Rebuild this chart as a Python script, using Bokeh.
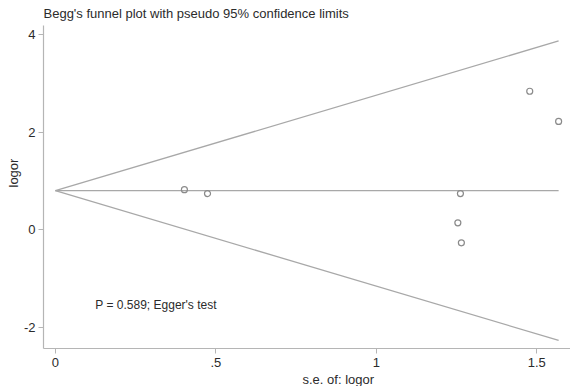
from bokeh.plotting import figure
from bokeh.models import Range1d, FixedTicker, Label, Title
from bokeh.embed import file_html
from bokeh.resources import INLINE

# Data
se_logor = [0.402, 0.474, 1.262, 1.254, 1.265, 1.478, 1.568]
logor = [0.82, 0.74, 0.74, 0.14, -0.27, 2.84, 2.22]
pooled = 0.80
x_ticks = [0, 0.5, 1, 1.5]
x_tick_labels = ["0", ".5", "1", "1.5"]
y_ticks = [-2, 0, 2, 4]
y_tick_labels = ["-2", "0", "2", "4"]

FONT = "Liberation Sans"
GRAY_LINE = "#a8a8a8"
AXIS_COL = "#b5b5b5"
TEXT_COL = "#2b2b2b"

p = figure(width=570, height=386, output_backend="svg", toolbar_location=None,
           x_range=Range1d(-0.037, 1.605), y_range=Range1d(-2.44, 4.19),
           min_border_left=43, min_border_right=0, min_border_top=25, min_border_bottom=38)
p.title.text = "Begg's funnel plot with pseudo 95% confidence limits"
p.title.align = "left"
p.title.vertical_align = "top"
p.title.text_font = FONT
p.title.text_font_size = "13px"
p.title.text_font_style = "normal"
p.title.text_color = TEXT_COL
p.title.standoff = 6
p.outline_line_color = None
p.xgrid.visible = False
p.ygrid.visible = False
p.background_fill_color = "white"
p.border_fill_color = "white"

# funnel
max_se = max(se_logor)
p.line([0, max_se], [pooled, pooled], line_color=GRAY_LINE, line_width=1.3)
p.line([0, max_se], [pooled, pooled + 1.96 * max_se], line_color=GRAY_LINE, line_width=1.3)
p.line([0, max_se], [pooled, pooled - 1.96 * max_se], line_color=GRAY_LINE, line_width=1.3)

p.scatter(se_logor, logor, marker="circle", size=6, fill_color=None,
          line_color="#8a8a8a", line_width=1.2)

for ax in (p.xaxis[0], p.yaxis[0]):
    ax.axis_line_color = AXIS_COL
    ax.axis_line_width = 1.2
    ax.major_tick_line_color = AXIS_COL
    ax.major_tick_out = 5
    ax.major_tick_in = 0
    ax.minor_tick_line_color = None
    ax.major_label_text_font = FONT
    ax.major_label_text_font_size = "13px"
    ax.major_label_text_color = TEXT_COL

p.xaxis.ticker = FixedTicker(ticks=x_ticks)
p.xaxis.major_label_overrides = {t: l for t, l in zip(x_ticks, x_tick_labels)}
p.xaxis.major_label_standoff = 4
p.yaxis.ticker = FixedTicker(ticks=y_ticks)
p.yaxis.major_label_overrides = {t: l for t, l in zip(y_ticks, y_tick_labels)}
p.yaxis.major_label_standoff = 3
p.yaxis.major_label_orientation = "horizontal"

p.add_layout(Title(text="s.e. of: logor", align="left", offset=259, standoff=0,
                   text_font=FONT, text_font_size="13px", text_font_style="normal",
                   text_color=TEXT_COL), "below")
p.add_layout(Title(text="logor", align="left", offset=161, standoff=0,
                   text_font=FONT, text_font_size="13px", text_font_style="normal",
                   text_color=TEXT_COL), "left")

p.add_layout(Label(x=(95 - 55) / 321.0, y=(229 - 304) / 48.7, text="P = 0.589; Egger's test",
                   text_font=FONT, text_font_size="12px", text_color=TEXT_COL,
                   text_baseline="middle", text_align="left"))

open("out.html", "w").write(file_html(p, INLINE))
